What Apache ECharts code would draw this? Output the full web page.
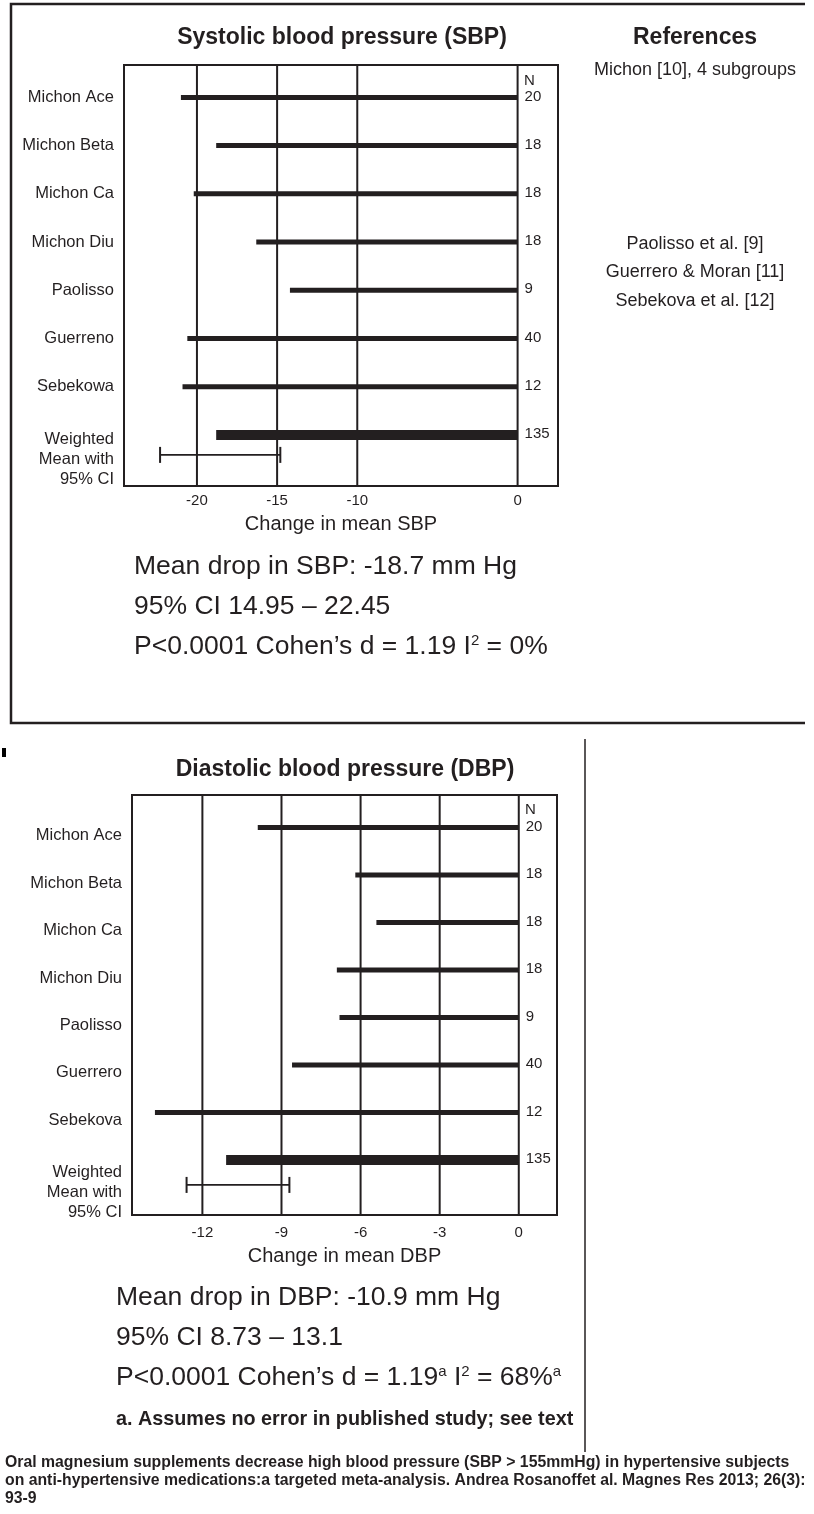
<!DOCTYPE html>
<html><head><meta charset="utf-8">
<script src="https://cdn.jsdelivr.net/npm/echarts@6/dist/echarts.min.js"></script>
<style>html,body{margin:0;padding:0;background:#fff}#c{width:814px;height:1514px}</style>
</head><body><div id="c"></div>
<script>
// ---- data ----
const sbpStudies = ['Michon Ace','Michon Beta','Michon Ca','Michon Diu','Paolisso','Guerreno','Sebekowa','Weighted\nMean with\n95% CI'];
const sbpValues = [-21.0,-18.8,-20.2,-16.3,-14.2,-20.6,-20.9];
const sbpWeighted = -18.8;
const sbpCI = [-22.3,-14.8];
const sbpN = [20,18,18,18,9,40,12,135];
const sbpTicks = [-20,-15,-10,0];

const dbpStudies = ['Michon Ace','Michon Beta','Michon Ca','Michon Diu','Paolisso','Guerrero','Sebekova','Weighted\nMean with\n95% CI'];
const dbpValues = [-9.9,-6.2,-5.4,-6.9,-6.8,-8.6,-13.8];
const dbpWeighted = -11.1;
const dbpCI = [-12.6,-8.7];
const dbpN = [20,18,18,18,9,40,12,135];
const dbpTicks = [-12,-9,-6,-3,0];

// ---- styling ----
const INK = '#231f20';
const FONT = '"Liberation Sans", Arial, Helvetica, sans-serif';

function barRender(thick) {
  return function (params, api) {
    const v = api.value(0), i = api.value(1), n = api.value(2);
    const p0 = api.coord([0, i]);
    const p1 = api.coord([v, i]);
    return {
      type: 'group',
      children: [
        { type: 'rect', shape: { x: p1[0], y: p0[1] - thick / 2, width: p0[0] - p1[0], height: thick }, style: { fill: INK } },
        { type: 'text', style: { text: String(n), x: p0[0] + 7, y: p0[1] - 1, verticalAlign: 'middle', align: 'left', font: '15px ' + FONT, fill: INK } }
      ]
    };
  };
}
function gridRender(params, api) {
  const cs = params.coordSys;
  const x = api.coord([api.value(0), 0])[0];
  return { type: 'line', shape: { x1: x, y1: cs.y, x2: x, y2: cs.y + cs.height }, style: { stroke: INK, lineWidth: 2 } };
}
// CI whisker below the weighted bar, plus the multi-line row label at the left of the plot
function ciRender(off, label, labelOff) {
  return function (params, api) {
    const cs = params.coordSys;
    const i = api.value(2);
    const a = api.coord([api.value(0), i]);
    const b = api.coord([api.value(1), i]);
    const y = a[1] + off;
    return {
      type: 'group',
      children: [
        { type: 'line', shape: { x1: a[0], y1: y, x2: b[0], y2: y }, style: { stroke: INK, lineWidth: 1.6 } },
        { type: 'line', shape: { x1: a[0], y1: y - 8, x2: a[0], y2: y + 8 }, style: { stroke: INK, lineWidth: 2 } },
        { type: 'line', shape: { x1: b[0], y1: y - 8, x2: b[0], y2: y + 8 }, style: { stroke: INK, lineWidth: 2 } },
        { type: 'text', style: { text: label, x: cs.x - 10, y: a[1] + labelOff, align: 'right', verticalAlign: 'top', font: '16.5px ' + FONT, lineHeight: 20, fill: INK } }
      ]
    };
  };
}

function panelSeries(k, names, values, weighted, ci, ns, ticks, ciOff, labelOff) {
  const wi = values.length;
  return [
    { type: 'custom', xAxisIndex: k, yAxisIndex: k, renderItem: gridRender, encode: { x: 0, y: 1 }, data: ticks.map(t => [t, 0]), silent: true, z: 1 },
    { type: 'custom', xAxisIndex: k, yAxisIndex: k, renderItem: barRender(5), encode: { x: 0, y: 1 }, data: values.map((v, i) => [v, i, ns[i]]), z: 2 },
    { type: 'custom', xAxisIndex: k, yAxisIndex: k, renderItem: barRender(10), encode: { x: 0, y: 1 }, data: [[weighted, wi, ns[wi]]], z: 2 },
    { type: 'custom', xAxisIndex: k, yAxisIndex: k, renderItem: ciRender(ciOff, names[wi], labelOff), encode: { x: 0, y: 2 }, data: [[ci[0], ci[1], wi]], clip: false, z: 2 }
  ];
}

function xAxisCfg(k, min, max, ticks, name, margin, nameGap) {
  return {
    type: 'value', gridIndex: k, min: min, max: max,
    axisLine: { show: false }, axisTick: { show: false }, splitLine: { show: false },
    axisLabel: { customValues: ticks, color: INK, fontFamily: FONT, fontSize: 15, margin: margin },
    name: name, nameLocation: 'middle', nameGap: nameGap,
    nameTextStyle: { color: INK, fontFamily: FONT, fontSize: 20 }
  };
}
// pt: twice the downward shift of the row labels
function yAxisCfg(k, min, max, names, pt) {
  const base = { fontFamily: FONT, fontSize: 16.5, color: INK, lineHeight: 20 };
  const single = names.slice(0, names.length - 1);
  return {
    type: 'value', gridIndex: k, inverse: true, min: min, max: max,
    axisLine: { show: false }, axisTick: { show: false }, splitLine: { show: false },
    axisLabel: {
      customValues: single.map((_, i) => i),
      showMinLabel: true, showMaxLabel: true,
      formatter: v => '{p|' + (single[Math.round(v)] || '') + '}',
      rich: { p: Object.assign({ padding: [pt, 0, 0, 0] }, base) },
      color: INK, fontFamily: FONT, fontSize: 16.5, lineHeight: 20, margin: 10, align: 'right'
    }
  };
}

function txt(x, y, text, font, align, extra) {
  return { type: 'text', x: x, y: y, style: Object.assign({ text: text, font: font, fill: INK, align: align || 'left', verticalAlign: 'middle' }, extra || {}) };
}

const chart = echarts.init(document.getElementById('c'), null, { renderer: 'canvas' });
const STAT = '26.5px ' + FONT;
const supRich = { sup: { fontSize: 15, fontFamily: FONT, fill: INK, verticalAlign: 'top', lineHeight: 26 } };

chart.setOption({
  animation: false,
  backgroundColor: '#fff',
  grid: [
    { left: 124, top: 65, width: 434, height: 421, show: true, borderColor: INK, borderWidth: 2, containLabel: false },
    { left: 132, top: 795, width: 425, height: 420, show: true, borderColor: INK, borderWidth: 2, containLabel: false }
  ],
  xAxis: [
    xAxisCfg(0, -24.55, 2.52, sbpTicks, 'Change in mean SBP', 7, 28),
    xAxisCfg(1, -14.67, 1.45, dbpTicks, 'Change in mean DBP', 10, 31)
  ],
  yAxis: [
    yAxisCfg(0, -0.672, 8.06, sbpStudies, 0),
    yAxisCfg(1, -0.685, 8.16, dbpStudies, 16)
  ],
  series: [].concat(
    panelSeries(0, sbpStudies, sbpValues, sbpWeighted, sbpCI, sbpN, sbpTicks, 20, -5),
    panelSeries(1, dbpStudies, dbpValues, dbpWeighted, dbpCI, dbpN, dbpTicks, 25, 3)
  ),
  graphic: [
    { type: 'polyline', shape: { points: [[805, 4], [11, 4], [11, 723], [805, 723]] }, style: { stroke: INK, lineWidth: 2.5, fill: null } },
    { type: 'rect', shape: { x: 2, y: 748, width: 4, height: 9 }, style: { fill: '#000' } },
    { type: 'line', shape: { x1: 585, y1: 739, x2: 585, y2: 1452 }, style: { stroke: INK, lineWidth: 1.5 } },

    txt(342, 38, 'Systolic blood pressure (SBP)', 'bold 23px ' + FONT, 'center'),
    txt(695, 38, 'References', 'bold 23px ' + FONT, 'center'),
    txt(695, 70, 'Michon [10], 4 subgroups', '18px ' + FONT, 'center'),
    txt(695, 244, 'Paolisso et al. [9]', '18px ' + FONT, 'center'),
    txt(695, 272, 'Guerrero & Moran [11]', '18px ' + FONT, 'center'),
    txt(695, 301, 'Sebekova et al. [12]', '18px ' + FONT, 'center'),
    txt(524, 81, 'N', '15px ' + FONT, 'left'),

    txt(134, 567, 'Mean drop in SBP: -18.7 mm Hg', STAT, 'left'),
    txt(134, 607, '95% CI 14.95 – 22.45', STAT, 'left'),
    txt(134, 647, 'P<0.0001 Cohen’s d = 1.19 I{sup|2} = 0%', STAT, 'left', { rich: supRich }),

    txt(345, 770, 'Diastolic blood pressure (DBP)', 'bold 23px ' + FONT, 'center'),
    txt(525, 810, 'N', '15px ' + FONT, 'left'),

    txt(116, 1298, 'Mean drop in DBP: -10.9 mm Hg', STAT, 'left'),
    txt(116, 1338, '95% CI 8.73 – 13.1', STAT, 'left'),
    txt(116, 1378, 'P<0.0001 Cohen’s d = 1.19{sup|a} I{sup|2} = 68%{sup|a}', STAT, 'left', { rich: supRich }),
    txt(116, 1420, 'a. Assumes no error in published study; see text', 'bold 19.8px ' + FONT, 'left'),

    txt(5, 1463, 'Oral magnesium supplements decrease high blood pressure (SBP > 155mmHg) in hypertensive subjects', 'bold 15.8px ' + FONT, 'left'),
    txt(5, 1481, 'on anti-hypertensive medications:a targeted meta-analysis. Andrea Rosanoffet al. Magnes Res 2013; 26(3):', 'bold 15.8px ' + FONT, 'left'),
    txt(5, 1499, '93-9', 'bold 15.8px ' + FONT, 'left')
  ]
});
</script>
</body></html>
